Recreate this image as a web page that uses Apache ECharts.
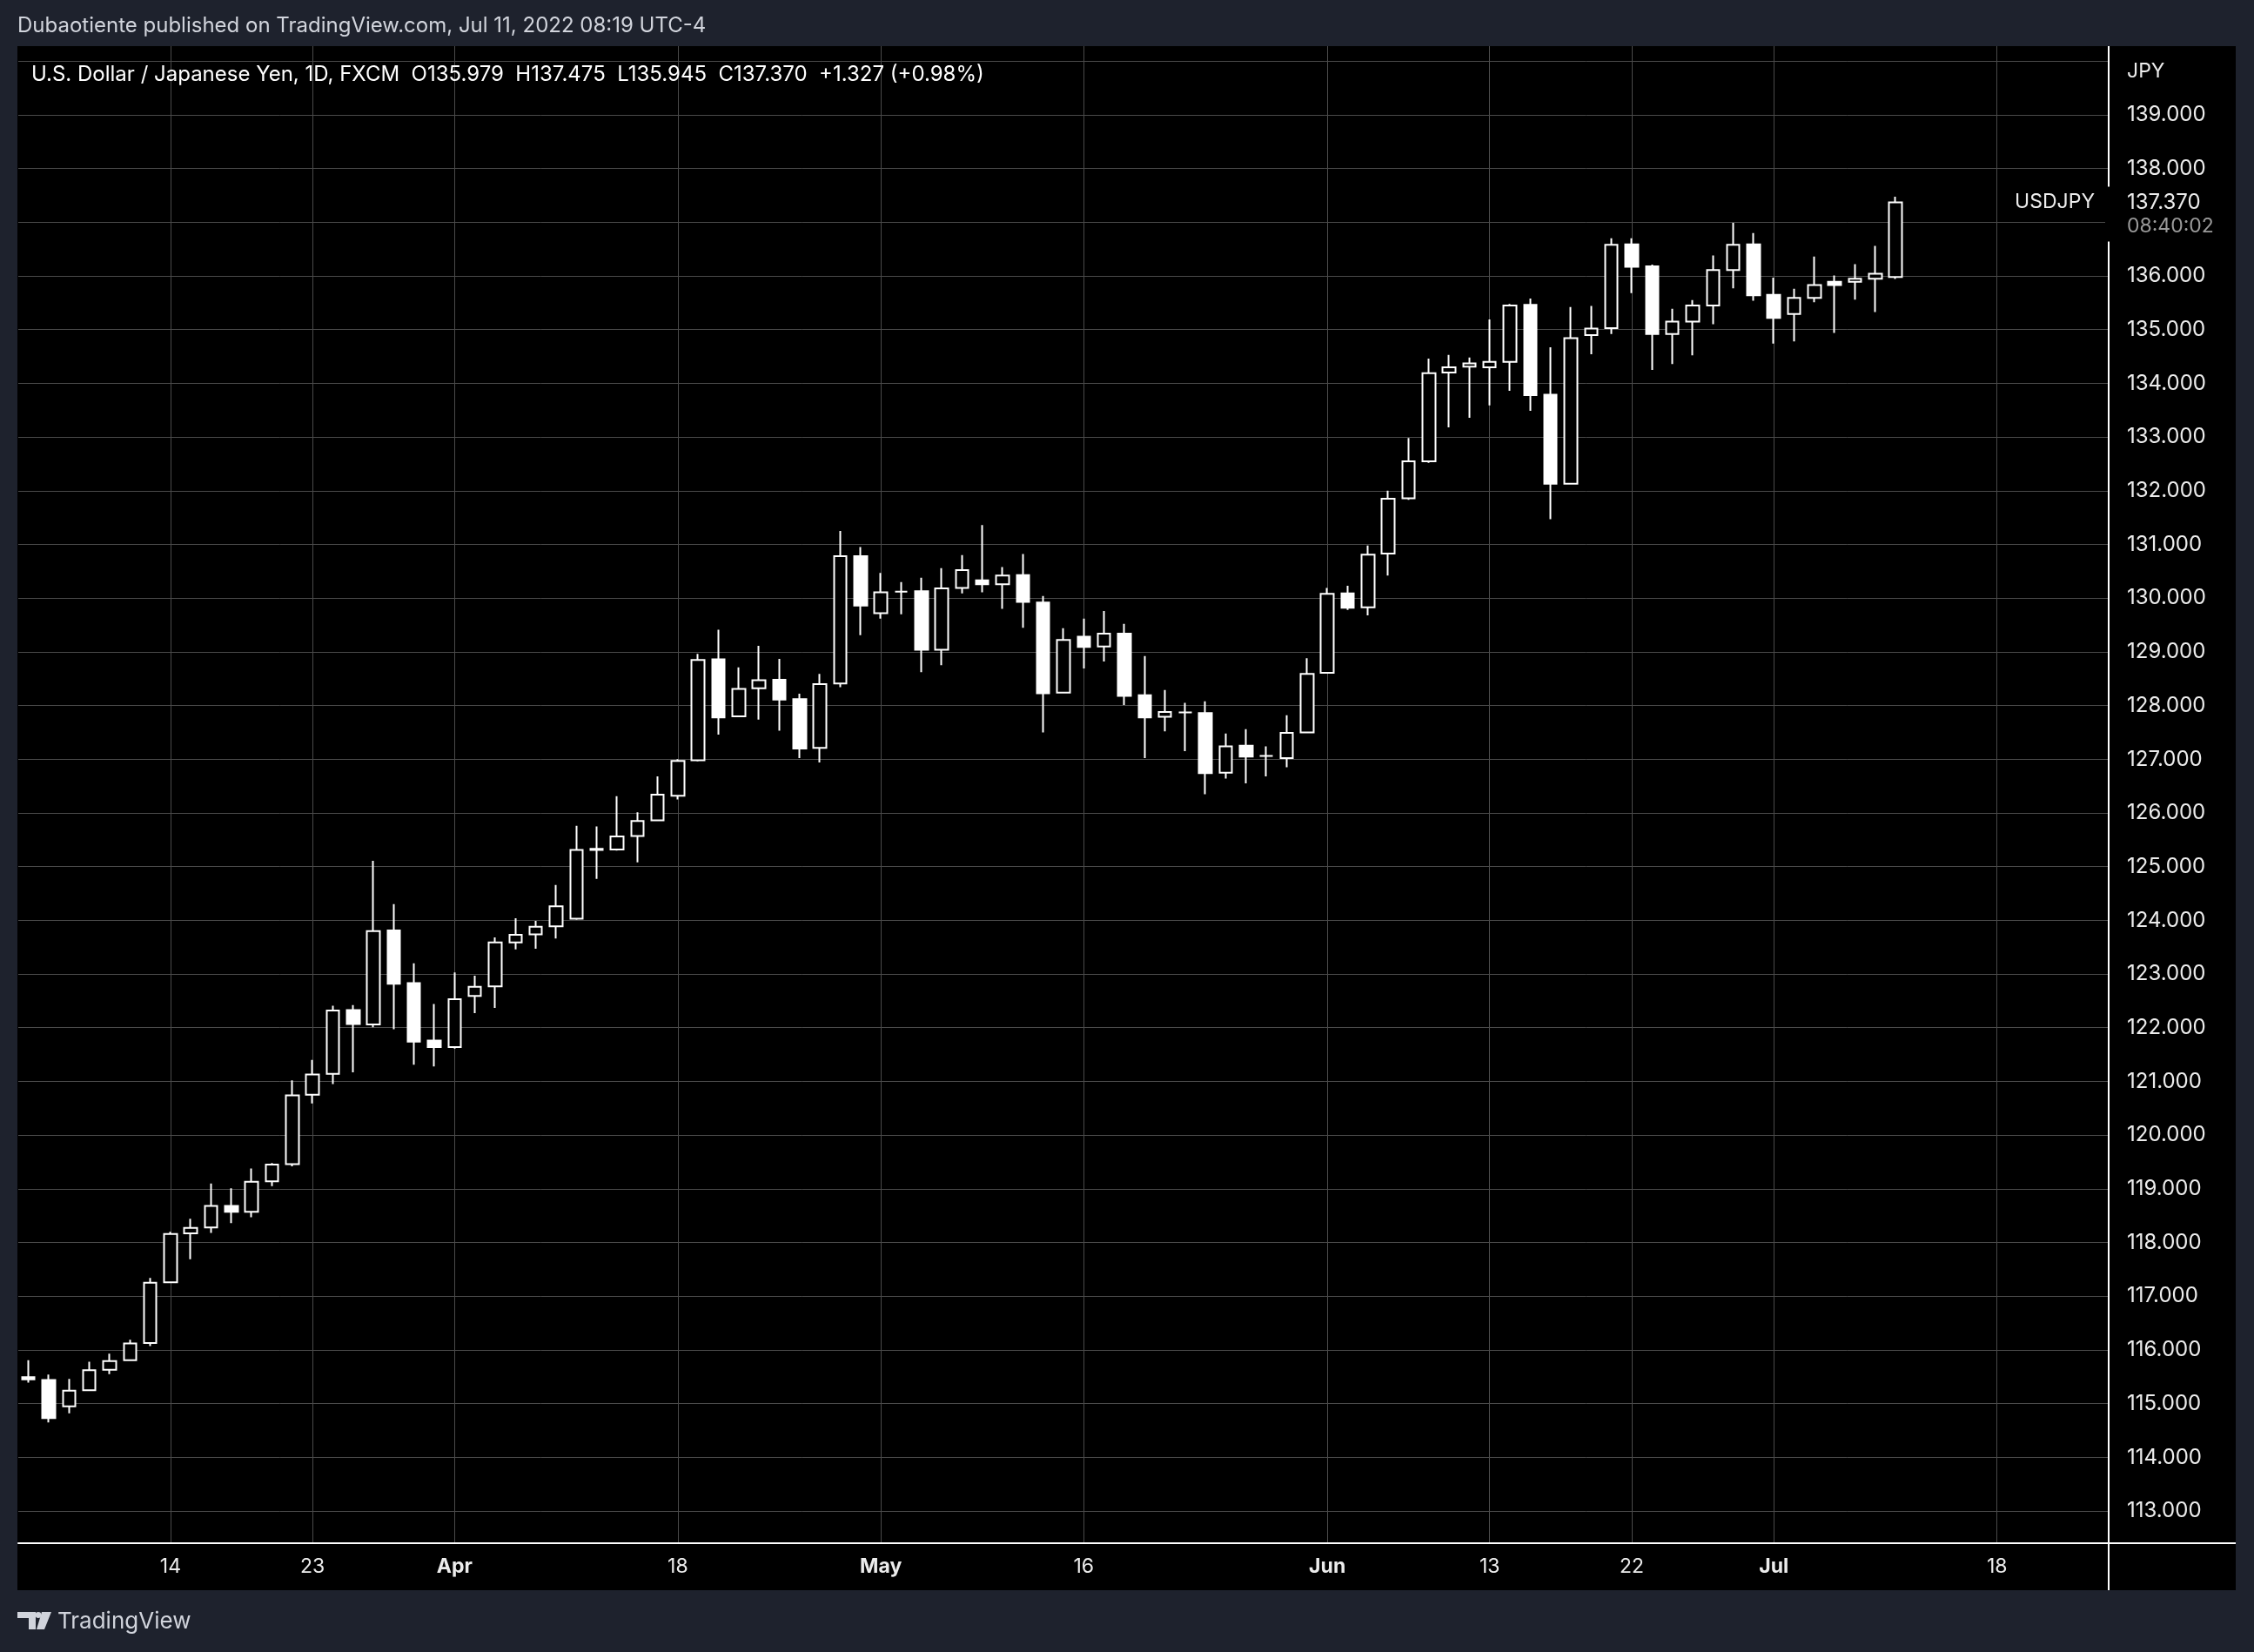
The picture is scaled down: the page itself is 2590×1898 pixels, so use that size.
<!DOCTYPE html>
<html>
<head>
<meta charset="utf-8">
<script src="https://cdn.jsdelivr.net/npm/echarts@6/dist/echarts.min.js"></script>
<style>
html,body{margin:0;padding:0;background:#1e222d;}
#chart{width:2590px;height:1898px;}
</style>
</head>
<body>
<div id="chart"></div>
<script>
// ---------- DATA ----------
const dates = [
 '2022-03-03','2022-03-04','2022-03-07','2022-03-08','2022-03-09','2022-03-10','2022-03-11',
 '2022-03-14','2022-03-15','2022-03-16','2022-03-17','2022-03-18',
 '2022-03-21','2022-03-22','2022-03-23','2022-03-24','2022-03-25',
 '2022-03-28','2022-03-29','2022-03-30','2022-03-31','2022-04-01',
 '2022-04-04','2022-04-05','2022-04-06','2022-04-07','2022-04-08',
 '2022-04-11','2022-04-12','2022-04-13','2022-04-14','2022-04-15',
 '2022-04-18','2022-04-19','2022-04-20','2022-04-21','2022-04-22',
 '2022-04-25','2022-04-26','2022-04-27','2022-04-28','2022-04-29',
 '2022-05-02','2022-05-03','2022-05-04','2022-05-05','2022-05-06',
 '2022-05-09','2022-05-10','2022-05-11','2022-05-12','2022-05-13',
 '2022-05-16','2022-05-17','2022-05-18','2022-05-19','2022-05-20',
 '2022-05-23','2022-05-24','2022-05-25','2022-05-26','2022-05-27',
 '2022-05-30','2022-05-31','2022-06-01','2022-06-02','2022-06-03',
 '2022-06-06','2022-06-07','2022-06-08','2022-06-09','2022-06-10',
 '2022-06-13','2022-06-14','2022-06-15','2022-06-16','2022-06-17',
 '2022-06-20','2022-06-21','2022-06-22','2022-06-23','2022-06-24',
 '2022-06-27','2022-06-28','2022-06-29','2022-06-30','2022-07-01',
 '2022-07-04','2022-07-05','2022-07-06','2022-07-07','2022-07-08',
 '2022-07-11'
];
// empty future sessions on the time scale (right margin of the chart)
const futureDates = [
 '2022-07-12','2022-07-13','2022-07-14','2022-07-15',
 '2022-07-18','2022-07-19','2022-07-20','2022-07-21','2022-07-22','2022-07-25'
];
const openV = [
 115.49,115.44,114.95,115.25,115.63,115.81,116.13,
 117.26,118.17,118.28,118.68,118.57,
 119.14,119.46,120.75,121.14,122.33,
 122.06,123.81,122.83,121.76,121.64,
 122.59,122.77,123.59,123.74,123.89,
 124.03,125.33,125.32,125.57,125.86,
 126.32,126.98,128.86,127.80,128.32,
 128.48,128.12,127.21,128.41,130.78,
 129.72,130.12,130.13,129.04,130.19,
 130.33,130.26,130.43,129.92,128.24,
 129.28,129.10,129.34,128.19,127.79,
 127.87,127.86,126.75,127.25,127.06,
 127.02,127.50,128.61,130.09,129.83,
 130.83,131.86,132.55,134.20,134.31,
 134.30,134.40,135.46,133.79,132.13,
 134.90,135.03,136.59,136.18,134.92,
 135.15,135.45,136.11,136.59,135.65,
 135.29,135.59,135.89,135.89,135.95,
 135.979
];
const highV = [
 115.81,115.54,115.46,115.78,115.93,116.19,117.34,
 118.20,118.44,119.10,119.01,119.38,
 119.48,121.02,121.40,122.41,122.42,
 125.11,124.30,123.20,122.44,123.03,
 122.97,123.68,124.04,123.99,124.66,
 125.76,125.75,126.31,126.01,126.68,
 127.00,128.96,129.41,128.71,129.11,
 128.87,128.22,128.59,131.25,130.95,
 130.47,130.30,130.38,130.56,130.80,
 131.36,130.58,130.82,130.04,129.44,
 129.62,129.76,129.52,128.92,128.29,
 128.05,128.08,127.48,127.56,127.24,
 127.82,128.88,130.19,130.23,130.98,
 132.00,132.98,134.46,134.53,134.48,
 135.19,135.48,135.58,134.67,135.42,
 135.44,136.70,136.70,136.21,135.39,
 135.55,136.38,136.99,136.80,135.97,
 135.76,136.36,136.01,136.22,136.56,
 137.475
];
const lowV = [
 115.39,114.65,114.82,115.24,115.55,115.80,116.07,
 117.26,117.69,118.18,118.36,118.47,
 119.05,119.42,120.59,120.95,121.17,
 122.01,121.97,121.31,121.28,121.61,
 122.27,122.37,123.46,123.47,123.66,
 124.01,124.77,125.30,125.08,125.86,
 126.25,126.96,127.46,127.80,127.74,
 127.53,127.02,126.94,128.34,129.31,
 129.62,129.70,128.62,128.75,130.09,
 130.11,129.80,129.45,127.50,128.24,
 128.69,128.82,128.01,127.02,127.52,
 127.15,126.35,126.64,126.55,126.68,
 126.85,127.50,128.60,129.78,129.68,
 130.42,131.83,132.52,133.18,133.36,
 133.59,133.86,133.49,131.47,132.13,
 134.54,134.92,135.68,134.25,134.36,
 134.52,135.10,135.77,135.54,134.74,
 134.78,135.51,134.94,135.56,135.33,
 135.945
];
const closeV = [
 115.45,114.73,115.24,115.62,115.79,116.12,117.25,
 118.16,118.27,118.68,118.57,119.13,
 119.45,120.74,121.13,122.32,122.07,
 123.80,122.82,121.74,121.64,122.53,
 122.76,123.59,123.73,123.88,124.26,
 125.31,125.31,125.56,125.85,126.34,
 126.97,128.85,127.78,128.31,128.47,
 128.11,127.20,128.40,130.78,129.86,
 130.11,130.12,129.04,130.18,130.52,
 130.26,130.42,129.93,128.23,129.22,
 129.09,129.34,128.18,127.78,127.88,
 127.87,126.74,127.24,127.05,127.06,
 127.49,128.59,130.08,129.82,130.81,
 131.85,132.55,134.19,134.30,134.37,
 134.40,135.45,133.78,132.13,134.84,
 135.02,136.58,136.17,134.92,135.15,
 135.45,136.11,136.58,135.64,135.22,
 135.59,135.83,135.83,135.95,136.043,
 137.370
];
const xTickDates  = ['2022-03-14','2022-03-23','2022-04-01','2022-04-18','2022-05-02','2022-05-16','2022-06-01','2022-06-13','2022-06-22','2022-07-01','2022-07-18'];
const xTickLabels = ['14','23','Apr','18','May','16','Jun','13','22','Jul','18'];
const yGridValues  = [113,114,115,116,117,118,119,120,121,122,123,124,125,126,127,128,129,130,131,132,133,134,135,136,137,138,139,140];
const yLabelValues = [113,114,115,116,117,118,119,120,121,122,123,124,125,126,127,128,129,130,131,132,133,134,135,136,137,138,139];
const symbolName = 'USDJPY';
const currency = 'JPY';
const seriesTitle = 'U.S. Dollar / Japanese Yen, 1D, FXCM';
const headerText = 'Dubaotiente published on TradingView.com, Jul 11, 2022 08:19 UTC-4';
const countdown = '08:40:02';

// ---------- CHART ----------
const FONT = 'Inter, "Noto Sans", sans-serif';
const NAVY = '#1e222d';
const GRID = '#4a4a4a';
const TXT = '#ececec';

const categories = dates.concat(futureDates);
const candleData = dates.map((d, i) => [openV[i], closeV[i], lowV[i], highV[i]]);

const chart = echarts.init(document.getElementById('chart'), null, {renderer: 'canvas'});

const option = {
  backgroundColor: '#000000',
  animation: false,
  grid: {left: 21, right: 167, top: 53, bottom: 125, containLabel: false},
  xAxis: {
    type: 'category',
    data: categories,
    boundaryGap: true,
    axisLine: {show: true, lineStyle: {color: '#ffffff', width: 2}},
    axisTick: {show: false},
    splitLine: {
      show: true,
      alignWithLabel: true,
      interval: (idx, val) => xTickDates.indexOf(val) >= 0,
      lineStyle: {color: GRID, width: 1}
    },
    axisLabel: {
      show: true,
      interval: (idx, val) => xTickDates.indexOf(val) >= 0,
      hideOverlap: false,
      margin: 16,
      color: TXT,
      fontFamily: FONT,
      fontSize: 23,
      formatter: (val) => {
        const k = xTickDates.indexOf(val);
        if (k < 0) return '';
        const t = xTickLabels[k];
        return isNaN(+t) ? '{m|' + t + '}' : t;
      },
      rich: {m: {fontFamily: FONT, fontSize: 23, fontWeight: 'bold', color: TXT}}
    }
  },
  yAxis: {
    type: 'value',
    position: 'right',
    min: 112.40,
    max: 140.28,
    scale: true,
    axisLine: {show: true, lineStyle: {color: '#ffffff', width: 2}},
    axisTick: {show: false, customValues: yGridValues},
    splitLine: {show: true, lineStyle: {color: GRID, width: 1}},
    axisLabel: {
      customValues: yLabelValues,
      margin: 21,
      color: TXT,
      fontFamily: FONT,
      fontSize: 24,
      formatter: (v) => v.toFixed(3)
    }
  },
  series: [{
    type: 'candlestick',
    data: candleData,
    barWidth: 15,
    clip: true,
    itemStyle: {
      color: '#000000',
      color0: '#ffffff',
      borderColor: '#ffffff',
      borderColor0: '#ffffff',
      borderColorDoji: '#ffffff',
      borderWidth: 2
    },
    emphasis: {disabled: true},
    silent: true
  }]
};
chart.setOption(option);

// ---------- overlay (frame, header, price tag) ----------
const last = dates.length - 1;
const lastClose = closeV[last];
const prevClose = closeV[last - 1];
const chg = lastClose - prevClose;
const pct = chg / prevClose * 100;
const ohlcText = seriesTitle + '  O' + openV[last].toFixed(3) + '  H' + highV[last].toFixed(3) +
  '  L' + lowV[last].toFixed(3) + '  C' + lastClose.toFixed(3) + '  ' +
  (chg >= 0 ? '+' : '') + chg.toFixed(3) + ' (' + (pct >= 0 ? '+' : '') + pct.toFixed(2) + '%)';

const yLast = chart.convertToPixel({yAxisIndex: 0}, lastClose);
const axisX = 2423, axisY = 1773;

const graphics = [
  // navy frame around the black chart pane
  {type: 'rect', shape: {x: 0, y: 0, width: 2590, height: 53}, style: {fill: NAVY}, z: 1, silent: true},
  {type: 'rect', shape: {x: 0, y: 1827, width: 2590, height: 71}, style: {fill: NAVY}, z: 1, silent: true},
  {type: 'rect', shape: {x: 0, y: 0, width: 20, height: 1898}, style: {fill: NAVY}, z: 1, silent: true},
  {type: 'rect', shape: {x: 2569, y: 0, width: 21, height: 1898}, style: {fill: NAVY}, z: 1, silent: true},
  // axis line extensions into the scale corner
  {type: 'line', shape: {x1: axisX, y1: axisY, x2: 2569, y2: axisY}, style: {stroke: '#ffffff', lineWidth: 2}, z: 2, silent: true},
  {type: 'line', shape: {x1: axisX, y1: axisY, x2: axisX, y2: 1827}, style: {stroke: '#ffffff', lineWidth: 2}, z: 2, silent: true},
  // header
  {type: 'text', x: 20, y: 30, z: 5, silent: true,
   style: {text: headerText, fill: '#d1d4dc', font: '24px ' + FONT, textVerticalAlign: 'middle'}},
  {type: 'text', x: 36, y: 86, z: 5, silent: true,
   style: {text: ohlcText, fill: '#ffffff', font: '24px ' + FONT, textVerticalAlign: 'middle'}},
  // currency label on the price scale
  {type: 'text', x: 2444, y: 82, z: 5, silent: true,
   style: {text: currency, fill: TXT, font: '23px ' + FONT, textVerticalAlign: 'middle'}},
  // last price tag
  {type: 'rect', shape: {x: 2419, y: yLast - 18, width: 150, height: 63}, style: {fill: '#000000'}, z: 4, silent: true},
  {type: 'text', x: 2407, y: yLast, z: 5, silent: true,
   style: {text: symbolName, fill: TXT, font: '23px ' + FONT, textAlign: 'right', textVerticalAlign: 'middle'}},
  {type: 'text', x: 2444, y: yLast, z: 5, silent: true,
   style: {text: lastClose.toFixed(3), fill: TXT, font: '24px ' + FONT, textVerticalAlign: 'middle'}},
  {type: 'text', x: 2444, y: yLast + 28, z: 5, silent: true,
   style: {text: countdown, fill: '#9a9a9a', font: '23px ' + FONT, textVerticalAlign: 'middle'}},
  // TradingView logo
  {type: 'polygon', shape: {points: [[20,1852],[41,1852],[41,1872],[33,1872],[33,1859],[20,1859]]}, style: {fill: '#d1d4dc'}, z: 5, silent: true},
  {type: 'circle', shape: {cx: 44, cy: 1855.5, r: 3.4}, style: {fill: '#d1d4dc'}, z: 5, silent: true},
  {type: 'polygon', shape: {points: [[48,1852],[59,1852],[51,1872],[42,1872]]}, style: {fill: '#d1d4dc'}, z: 5, silent: true},
  {type: 'text', x: 66, y: 1863, z: 5, silent: true,
   style: {text: 'TradingView', fill: '#d1d4dc', font: '26px ' + FONT, textVerticalAlign: 'middle'}}
];
chart.setOption({graphic: graphics});
</script>
</body>
</html>
